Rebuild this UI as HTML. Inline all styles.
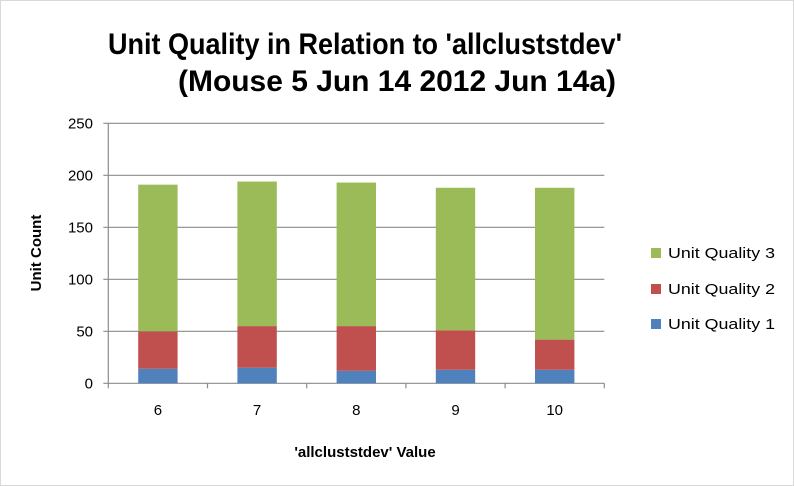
<!DOCTYPE html>
<html><head><meta charset="utf-8"><style>
body{margin:0;background:#fff;}
svg{display:block;font-family:"Liberation Sans",Arial,sans-serif;}
</style></head><body>
<svg id="c" width="794" height="486">
<rect x="0.5" y="0.5" width="793" height="485" fill="#fff" stroke="#d9d9d9"/>
<text x="365" y="54" text-anchor="middle" font-size="30" font-weight="bold" textLength="514" lengthAdjust="spacingAndGlyphs">Unit Quality in Relation to 'allcluststdev'</text>
<text x="397" y="91" text-anchor="middle" font-size="30" font-weight="bold" textLength="438" lengthAdjust="spacingAndGlyphs">(Mouse 5 Jun 14 2012 Jun 14a)</text>
<text transform="translate(41,253) rotate(-90)" text-anchor="middle" font-size="15" font-weight="bold">Unit Count</text>
<text x="365" y="457" text-anchor="middle" font-size="15" font-weight="bold">'allcluststdev' Value</text>
<g id="grid"></g><g id="bars"></g><g id="axes"></g><g id="legend"></g>
</svg>
<script>
const categories=["6","7","8","9","10"];
const q1=[14,15,12,13,13];
const q2=[36,40,43,38,29];
const q3=[141,139,138,137,146];
const yTicks=[0,50,100,150,200,250];
const seriesNames=["Unit Quality 1","Unit Quality 2","Unit Quality 3"];
const colors=["#4f81bd","#c0504d","#9bbb59"];
const NS="http://www.w3.org/2000/svg";
const X0=108.3,X1=604.3,Y0=383.3,Y1=123.3,YMAX=250;
const y=v=>Y0-(v/YMAX)*(Y0-Y1);
const cw=(X1-X0)/categories.length;
const xc=i=>X0+cw*(i+0.5);
function mk(tag,attrs,parent){const e=document.createElementNS(NS,tag);for(const k in attrs)e.setAttribute(k,attrs[k]);parent.appendChild(e);return e;}
const grid=document.getElementById('grid'),bars=document.getElementById('bars'),axes=document.getElementById('axes'),legend=document.getElementById('legend');
yTicks.forEach(t=>{
 const l=mk('line',{x1:X0-5,x2:X1,y1:y(t),y2:y(t),stroke:'#8c8c8c','stroke-width':1.2},grid);
 
 
 const tx=mk('text',{x:93,y:y(t)+5,'text-anchor':'end','font-size':15},axes);
 tx.textContent=t;
 
 
});
const ya=mk('line',{x1:X0,x2:X0,y1:Y1,y2:Y0,stroke:'#8c8c8c','stroke-width':1.2},axes);


for(let i=0;i<=categories.length;i++){
 const tk=mk('line',{x1:X0+cw*i,x2:X0+cw*i,y1:Y0,y2:Y0+5,stroke:'#8c8c8c','stroke-width':1.2},axes);
 
 
}
const bw=39.4;
const series=[q1,q2,q3];
categories.forEach((c,i)=>{
 let base=0;
 series.forEach((s,k)=>{
  const r=mk('rect',{x:xc(i)-bw/2,y:y(base+s[i]),width:bw,height:y(base)-y(base+s[i]),fill:colors[k]},bars);
  
  
  base+=s[i];
 });
 const tx=mk('text',{x:xc(i),y:415,'text-anchor':'middle','font-size':15},axes);
 tx.textContent=c;
 
 
});
const ly=[329,294,258];
seriesNames.forEach((n,k)=>{
 const r=mk('rect',{x:651,y:ly[k]-10,width:10,height:10,fill:colors[k]},legend);
 
 
 const t=mk('text',{x:668,y:ly[k],'font-size':15,textLength:107,lengthAdjust:'spacingAndGlyphs'},legend);
 t.textContent=n;
 
 
});
</script>
</body></html>
